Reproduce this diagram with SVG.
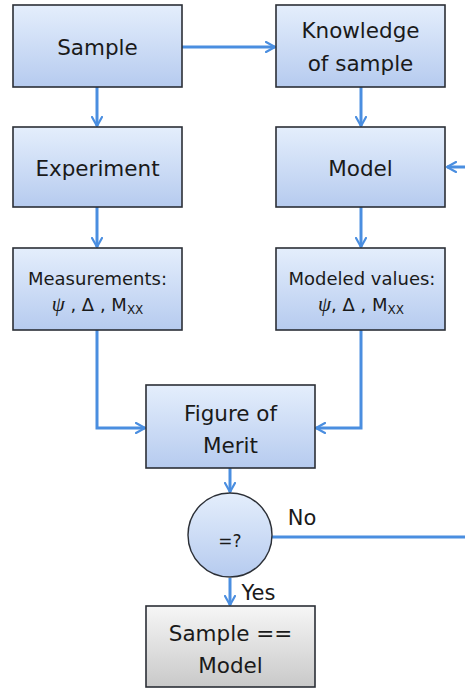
<svg xmlns="http://www.w3.org/2000/svg" width="465" height="689" viewBox="0 0 465 689">
  <style>
    .box { fill: url(#blueFill); stroke: #2b2f36; stroke-width: 1.6; }
    .gbox { fill: url(#grayFill); stroke: #2b2f36; stroke-width: 1.6; }
    .lbl { font-family: "DejaVu Sans", "Liberation Sans", sans-serif; fill: #1a1a1a; text-anchor: middle; }
    .big { font-size: 21.5px; }
    .small { font-size: 18px; }
    .edge { fill: none; stroke: #4a8ee0; stroke-width: 3; marker-end: url(#arrow); }
    .line { fill: none; stroke: #4a8ee0; stroke-width: 3; }
  </style>
  <defs>
    <linearGradient id="blueFill" x1="0" y1="0" x2="0" y2="1">
      <stop offset="0" stop-color="#e4eefc"/>
      <stop offset="1" stop-color="#b6cbef"/>
    </linearGradient>
    <linearGradient id="grayFill" x1="0" y1="0" x2="0" y2="1">
      <stop offset="0" stop-color="#f6f6f6"/>
      <stop offset="1" stop-color="#c9c9c9"/>
    </linearGradient>
    <marker id="arrow" viewBox="0 0 12 12" refX="10" refY="6" markerWidth="4" markerHeight="4" orient="auto" markerUnits="strokeWidth">
      <path d="M1,1 L10,6 L1,11" fill="none" stroke="#4a8ee0" stroke-width="2.2" stroke-linecap="round" stroke-linejoin="round"/>
    </marker>
  </defs>

  <g id="connectors">
    <path class="edge" d="M182,47 H275"/>
    <path class="edge" d="M97,87 V126"/>
    <path class="edge" d="M361,87 V126"/>
    <path class="edge" d="M465,167 H447"/>
    <path class="edge" d="M97,207 V247"/>
    <path class="edge" d="M361,207 V247"/>
    <path class="edge" d="M97,330 V428 H145"/>
    <path class="edge" d="M361,330 V428 H316"/>
    <path class="edge" d="M230,468 V492"/>
    <path class="line" d="M272,537 H465"/>
    <path class="edge" d="M230,578 V605"/>
  </g>

  <g id="sample">
    <rect class="box" x="13" y="5" width="169" height="82"/>
    <text class="lbl big" x="97.5" y="55">Sample</text>
  </g>
  <g id="knowledge">
    <rect class="box" x="276" y="5" width="169" height="82"/>
    <text class="lbl big" x="360.5" y="38">Knowledge</text>
    <text class="lbl big" x="360.5" y="71">of sample</text>
  </g>
  <g id="experiment">
    <rect class="box" x="13" y="127" width="169" height="80"/>
    <text class="lbl big" x="97.5" y="176">Experiment</text>
  </g>
  <g id="model">
    <rect class="box" x="276" y="127" width="169" height="80"/>
    <text class="lbl big" x="360.5" y="176">Model</text>
  </g>
  <g id="measurements">
    <rect class="box" x="13" y="248" width="169" height="82"/>
    <text class="lbl small" x="97.5" y="285">Measurements:</text>
    <text class="lbl small" x="97.5" y="311"><tspan font-family="Liberation Serif, serif" font-style="italic" font-size="21">ψ</tspan> , Δ , M<tspan font-size="12" dy="3">XX</tspan></text>
  </g>
  <g id="modeled">
    <rect class="box" x="276" y="248" width="169" height="82"/>
    <text class="lbl small" x="362" y="285">Modeled values:</text>
    <text class="lbl small" x="361" y="311"><tspan font-family="Liberation Serif, serif" font-style="italic" font-size="21">ψ</tspan>,  Δ , M<tspan font-size="12" dy="3">XX</tspan></text>
  </g>
  <g id="merit">
    <rect class="box" x="146" y="385" width="169" height="83"/>
    <text class="lbl big" x="230.5" y="421">Figure of</text>
    <text class="lbl big" x="230.5" y="453">Merit</text>
  </g>
  <g id="decision">
    <circle cx="230" cy="535" r="42" fill="url(#blueFill)" stroke="#2b2f36" stroke-width="1.4"/>
    <text class="lbl" x="230" y="547" font-size="17">=?</text>
    <text class="lbl" x="302" y="525" font-size="21">No</text>
    <text class="lbl" x="258.5" y="600" font-size="21">Yes</text>
  </g>
  <g id="result">
    <rect class="gbox" x="146" y="606" width="169" height="81"/>
    <text class="lbl big" x="230.5" y="641">Sample ==</text>
    <text class="lbl big" x="230.5" y="673">Model</text>
  </g>
</svg>
